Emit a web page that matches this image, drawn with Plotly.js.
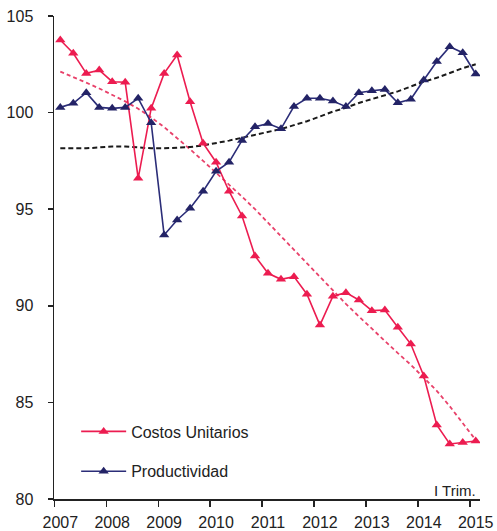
<!DOCTYPE html>
<html>
<head>
<meta charset="utf-8">
<script src="https://cdn.plot.ly/plotly-3.0.1.min.js"></script>
<style>html,body{margin:0;padding:0;background:#fff;}#chart{width:497px;height:531px;}</style>
</head>
<body>
<div id="chart"></div>
<script>
// Quarterly index, 2007 Q1 .. 2015 Q1
const yearLabels = ['2007','2008','2009','2010','2011','2012','2013','2014','2015'];
const quarterIndex = Array.from({length: 33}, (_, i) => i);

const costosUnitarios = [103.76, 103.07, 102.03, 102.2, 101.6, 101.57, 96.6, 100.22,
  102.03, 102.98, 100.56, 98.42, 97.43, 95.93, 94.65, 92.58, 91.68, 91.37, 91.51,
  90.6, 89.0, 90.5, 90.68, 90.3, 89.75, 89.78, 88.89, 88.02, 86.37, 83.83, 82.85,
  82.93, 83.0];

const productividad = [100.27, 100.48, 101.03, 100.27, 100.22, 100.27, 100.74, 99.48,
  93.66, 94.44, 95.05, 95.93, 96.96, 97.43, 98.56, 99.27, 99.43, 99.16, 100.32,
  100.74, 100.74, 100.6, 100.31, 101.03, 101.13, 101.2, 100.51, 100.69, 101.69,
  102.64, 103.41, 103.1, 102.0];

const tendenciaCostos = [102.12, 101.85, 101.55, 101.25, 100.92, 100.58, 100.2, 99.75,
  99.25, 98.7, 98.1, 97.5, 96.9, 96.3, 95.65, 95.0, 94.3, 93.6, 92.9, 92.15, 91.45,
  90.75, 90.1, 89.45, 88.8, 88.2, 87.55, 86.95, 86.3, 85.6, 84.8, 83.95, 83.05];

const tendenciaProductividad = [98.15, 98.15, 98.15, 98.2, 98.25, 98.25, 98.2, 98.15,
  98.15, 98.17, 98.22, 98.3, 98.42, 98.55, 98.7, 98.85, 99.0, 99.15, 99.35, 99.55,
  99.8, 100.05, 100.25, 100.5, 100.7, 100.9, 101.1, 101.35, 101.6, 101.8, 102.05,
  102.3, 102.5];

const yTicks = [80, 85, 90, 95, 100, 105];

const RED = '#ec1c50';
const BLUE = '#2b2d78';
const FONT = 'Liberation Sans, Arial, sans-serif';

const labelPos = yearLabels.map((_, k) => quarterIndex[k * 4]);
const boundaryPos = yearLabels.map((_, k) => quarterIndex[k * 4] - 0.45);

const traces = [
  {x: quarterIndex, y: tendenciaCostos, type: 'scatter', mode: 'lines',
   line: {color: '#e8416a', width: 1.8, dash: '4px,3px'}, showlegend: false, hoverinfo: 'skip'},
  {x: quarterIndex, y: tendenciaProductividad, type: 'scatter', mode: 'lines',
   line: {color: '#1a1a1a', width: 2, dash: '5px,3px'}, showlegend: false, hoverinfo: 'skip'},
  {x: quarterIndex, y: costosUnitarios, type: 'scatter', mode: 'lines+markers',
   name: 'Costos Unitarios', legendgroup: 'a',
   line: {color: RED, width: 1.6}, marker: {symbol: 'triangle-up', size: 9, color: RED}},
  {x: quarterIndex, y: productividad, type: 'scatter', mode: 'lines+markers',
   name: 'Productividad', legendgroup: 'b',
   line: {color: BLUE, width: 1.6}, marker: {symbol: 'triangle-up', size: 9, color: '#232366'}},
  // invisible trace to carry the label axis
  {x: [quarterIndex[0]], y: [90], xaxis: 'x2', type: 'scatter', mode: 'markers',
   marker: {opacity: 0}, showlegend: false, hoverinfo: 'skip'}
];

const xRange = [-0.485, 32.33];

const layout = {
  width: 497, height: 531,
  margin: {l: 54, r: 17, t: 16, b: 32, pad: 0},
  paper_bgcolor: '#ffffff', plot_bgcolor: '#ffffff',
  font: {family: FONT, size: 16, color: '#222'},
  showlegend: true,
  legend: {x: 0.052, y: 0.175, xanchor: 'left', yanchor: 'top',
           bgcolor: 'rgba(0,0,0,0)', borderwidth: 0,
           font: {family: FONT, size: 16, color: '#222'},
           traceorder: 'grouped', tracegroupgap: 16, itemwidth: 45},
  xaxis: {range: xRange, showgrid: false, zeroline: false,
          showline: true, linecolor: '#222', linewidth: 1.5,
          tickmode: 'array', tickvals: boundaryPos, ticktext: boundaryPos.map(() => ''),
          ticks: 'outside', ticklen: 6, tickwidth: 1.5, tickcolor: '#222'},
  xaxis2: {range: xRange, overlaying: 'x', side: 'bottom', showgrid: false, zeroline: false,
           showline: false, tickmode: 'array', tickvals: labelPos, ticktext: yearLabels,
           ticks: '', ticklabelstandoff: 12,
           tickfont: {family: FONT, size: 16, color: '#222'}},
  yaxis: {range: [80, 105], showgrid: false, zeroline: false,
          showline: true, linecolor: '#222', linewidth: 1.5,
          tickmode: 'array', tickvals: yTicks, ticks: 'outside', ticklen: 5,
          tickwidth: 1.5, tickcolor: '#222', ticklabelstandoff: 11,
          tickfont: {family: FONT, size: 16, color: '#222'}},
  annotations: [{text: 'I Trim.', xref: 'paper', yref: 'paper', x: 0.996, y: 0,
                 xanchor: 'right', yanchor: 'bottom', showarrow: false, yshift: -2,
                 font: {family: FONT, size: 15, color: '#222'}}]
};

Plotly.newPlot('chart', traces, layout, {displayModeBar: false, staticPlot: true});
</script>
</body>
</html>
